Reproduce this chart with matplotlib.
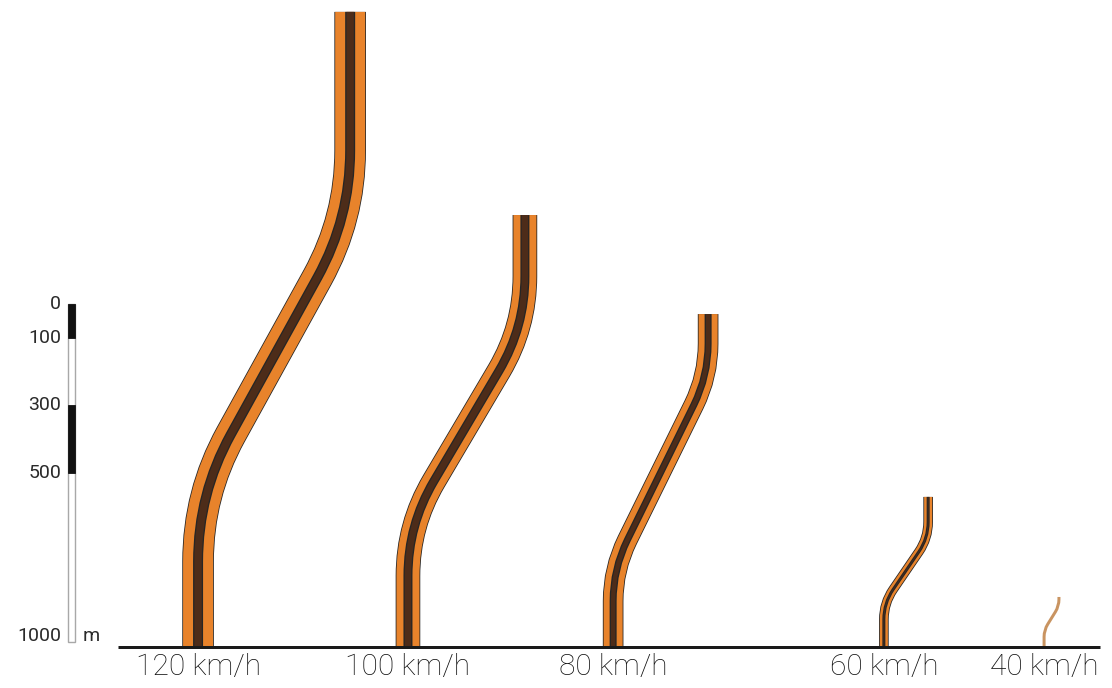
import numpy as np

import matplotlib
matplotlib.use('Agg')
import matplotlib.pyplot as plt
from matplotlib.path import Path
from matplotlib.patches import PathPatch, Rectangle

plt.rcParams['font.family'] = ['Roboto', 'DejaVu Sans']

# road layouts, metres (x from the left edge, y above the baseline)
speeds = [120, 100, 80, 60, 40]
x_bottom = [586, 1207, 1814, 2615, 3089]
x_top = [1036, 1553, 2095, 2746, 3133]
bend_low = [453, 361, 231, 130, 50]
bend_high = [1269, 947, 802, 322, 121]
top = [1879, 1278, 985, 444, 148]

# scale bar (metres)
bar_ticks = [0, 100, 300, 500, 1000]
bar_black = [(0, 100), (300, 500)]

# drawing styles
PX = 0.338                       # pixels per metre
W, H = 1112, 688
BASE_PX = 647
ROUND = [200, 150, 95, 48, 20]   # corner rounding, metres
ROAD_W = [30, 23, 19, 8, 3]      # pixels
MID_W = [10, 9, 7, 3, 0]
ORANGE = '#e8832b'
BROWN = '#4d2c19'
EDGE = '#262626'
TAN = '#c99461'


def pt(px):
    return px * 0.72


def road_path(xb, y1, xt, y2, yt, r):
    pts = np.array([(xb, 0.0), (xb, y1), (xt, y2), (xt, yt)])
    verts = [tuple(pts[0])]
    codes = [Path.MOVETO]
    for i in (1, 2):
        a, p, b = pts[i - 1], pts[i], pts[i + 1]
        u1 = (p - a) / np.linalg.norm(p - a)
        u2 = (b - p) / np.linalg.norm(b - p)
        verts += [tuple(p - u1 * r), tuple(p), tuple(p + u2 * r)]
        codes += [Path.LINETO, Path.CURVE3, Path.CURVE3]
    verts.append(tuple(pts[3]))
    codes.append(Path.LINETO)
    return Path(verts, codes)


fig = plt.figure(figsize=(W / 100, H / 100), dpi=100)
ax = fig.add_axes([0, 0, 1, 1])
ax.set_xlim(0, W / PX)
ax.set_ylim(-(H - BASE_PX) / PX, BASE_PX / PX)
ax.axis('off')

for i, spd in enumerate(speeds):
    path = road_path(x_bottom[i], bend_low[i], x_top[i], bend_high[i], top[i], ROUND[i])
    if MID_W[i] == 0:
        layers = [(ROAD_W[i], TAN)]
    else:
        layers = [(ROAD_W[i] + 1.6, EDGE), (ROAD_W[i], ORANGE),
                  (MID_W[i], EDGE), (max(MID_W[i] - 2.6, 0.8), BROWN)]
    for lw, col in layers:
        ax.add_patch(PathPatch(path, fill=False, lw=pt(lw), edgecolor=col,
                               capstyle='butt', joinstyle='round', zorder=2))
    ax.text(x_bottom[i], -58, '%d km/h' % spd, ha='center', va='center',
            fontsize=21.5, fontweight='light', color='#111111')

# baseline
ax.plot([118 / PX, 1100 / PX], [0, 0], color='#1a1a1a', lw=pt(3),
        solid_capstyle='butt', zorder=5)

# scale bar
bar_x0, bar_x1 = 68 / PX, 75 / PX
bar_top = (BASE_PX - 304) / PX
ax.add_patch(Rectangle((bar_x0, bar_top - 1000), bar_x1 - bar_x0, 1000,
                       facecolor='white', edgecolor='#a8a8a8', lw=1.0, zorder=3))
for a, b in bar_black:
    ax.add_patch(Rectangle((bar_x0, bar_top - b), bar_x1 - bar_x0, b - a,
                           facecolor='#111111', edgecolor='#111111', lw=0.6, zorder=4))
for t in bar_ticks:
    if t == bar_ticks[-1]:
        ax.text(61 / PX, bar_top - t + 2, str(t), ha='right', va='baseline',
                fontsize=14, color='#2a2a2a')
    else:
        ax.text(61 / PX, bar_top - t, str(t), ha='right', va='center',
                fontsize=14, color='#2a2a2a')
ax.text(83 / PX, bar_top - 1000 + 2, 'm', ha='left', va='baseline',
        fontsize=14, color='#2a2a2a')

fig.savefig('out.png', dpi=100, facecolor='white')
